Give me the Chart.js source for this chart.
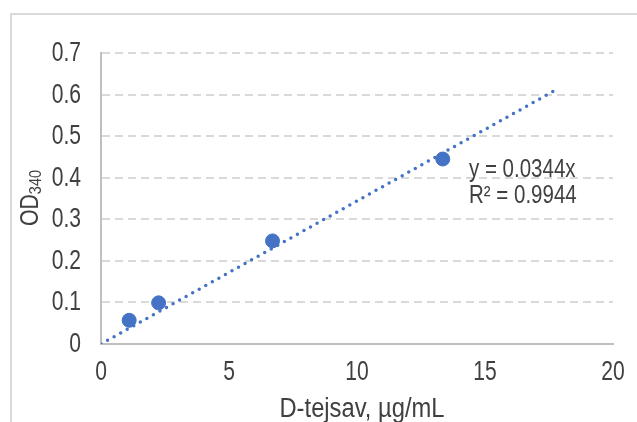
<!DOCTYPE html>
<html>
<head>
<meta charset="utf-8">
<script src="https://cdn.jsdelivr.net/npm/chart.js@4.4.1/dist/chart.umd.min.js"></script>
<style>
  html, body { margin: 0; padding: 0; background: #fff; overflow: hidden; }
  #wrap { position: relative; width: 637px; height: 422px; }
  #frame { position: absolute; left: 10px; top: 13px; width: 700px; height: 500px;
           border: 2px solid #d9d9d9; box-sizing: border-box; }
  canvas { position: absolute; left: 0; top: 0; }
</style>
</head>
<body>
<div id="wrap">
  <div id="frame"></div>
  <canvas id="odChart" width="637" height="422"></canvas>
</div>
<script>
// mért pontok (koncentráció, OD340)
const concX = [1.1, 2.25, 6.7, 13.35];
const odY = [0.057, 0.099, 0.248, 0.445];
// lineáris trendvonal végpontjai, leolvasva
const trendX = [0, 17.7];
const trendY = [0, 0.609];
const xTicks = [0, 5, 10, 15, 20];
const yTicks = [0, 0.1, 0.2, 0.3, 0.4, 0.5, 0.6, 0.7];
const eqLines = ['y = 0.0344x', 'R² = 0.9944'];

const FONT = '"Liberation Sans", Arial, sans-serif';
const TXT = '#404040';
const BLUE = '#4472C4';

// keskenyített szöveg (nincs Arial Narrow, ezért vízszintesen nyomjuk össze)
function narrowText(c, text, x, y, size, sx, align) {
    c.save();
    c.translate(x, y);
    c.scale(sx, 1);
    c.font = size + 'px ' + FONT;
    c.textAlign = align;
    c.textBaseline = 'alphabetic';
    c.fillText(text, 0, 0);
    c.restore();
}

const labelsPlugin = {
    id: 'labels',
    afterDraw(chart) {
        const c = chart.ctx;
        const xs = chart.scales.x, ys = chart.scales.y;
        c.save();
        c.fillStyle = TXT;

        // tengelyfeliratok
        xTicks.forEach(v => narrowText(c, String(v), xs.getPixelForValue(v), 380, 27, 0.78, 'center'));
        yTicks.forEach(v => narrowText(c, String(v), 81, ys.getPixelForValue(v) + 8, 27, 0.78, 'right'));

        // egyenlet
        narrowText(c, eqLines[0], 469, 177, 25, 0.82, 'left');
        narrowText(c, eqLines[1], 469, 203, 25, 0.82, 'left');

        // x tengelycím
        narrowText(c, 'D-tejsav, µg/mL', 362, 417, 27, 0.88, 'center');

        // OD340 függőlegesen, alsó indexszel
        c.translate(38, 226);
        c.rotate(-Math.PI / 2);
        c.scale(0.85, 1);
        c.textBaseline = 'alphabetic';
        c.textAlign = 'left';
        c.font = '25px ' + FONT;
        const w1 = c.measureText('OD').width;
        c.fillText('OD', 0, 0);
        c.font = '17px ' + FONT;
        c.fillText('340', w1, 3);
        c.restore();
    }
};

new Chart(document.getElementById('odChart').getContext('2d'), {
    type: 'scatter',
    data: {
        datasets: [
            {
                data: concX.map((x, i) => ({ x, y: odY[i] })),
                backgroundColor: BLUE,
                borderColor: BLUE,
                pointRadius: 7,
                pointHoverRadius: 7
            },
            {
                type: 'line',
                data: trendX.map((x, i) => ({ x, y: trendY[i] })),
                borderColor: BLUE,
                borderWidth: 3.5,
                borderDash: [0, 7.5],
                borderCapStyle: 'round',
                pointRadius: 0,
                fill: false
            }
        ]
    },
    options: {
        responsive: false,
        animation: false,
        layout: { padding: { top: 53, right: 24, left: 0, bottom: 0 } },
        plugins: { legend: { display: false }, tooltip: { enabled: false } },
        scales: {
            x: {
                type: 'linear', min: 0, max: 20,
                afterFit: s => { s.height = 78; },
                afterBuildTicks: s => { s.ticks = xTicks.map(v => ({ value: v })); },
                grid: { display: false, drawTicks: false },
                border: { display: true, color: '#bfbfbf', width: 2 },
                ticks: { display: false }
            },
            y: {
                type: 'linear', min: 0, max: 0.7,
                afterFit: s => { s.width = 101; },
                afterBuildTicks: s => { s.ticks = yTicks.map(v => ({ value: v })); },
                grid: {
                    color: ctx => (ctx.tick && ctx.tick.value === 0) ? 'rgba(0,0,0,0)' : '#d9d9d9',
                    lineWidth: 2,
                    drawTicks: false
                },
                // v4-ben a border.dash a rácsvonalakra vonatkozik
                border: { display: true, color: '#bfbfbf', width: 2, dash: [8, 5] },
                ticks: { display: false }
            }
        }
    },
    plugins: [labelsPlugin]
});
</script>
</body>
</html>
